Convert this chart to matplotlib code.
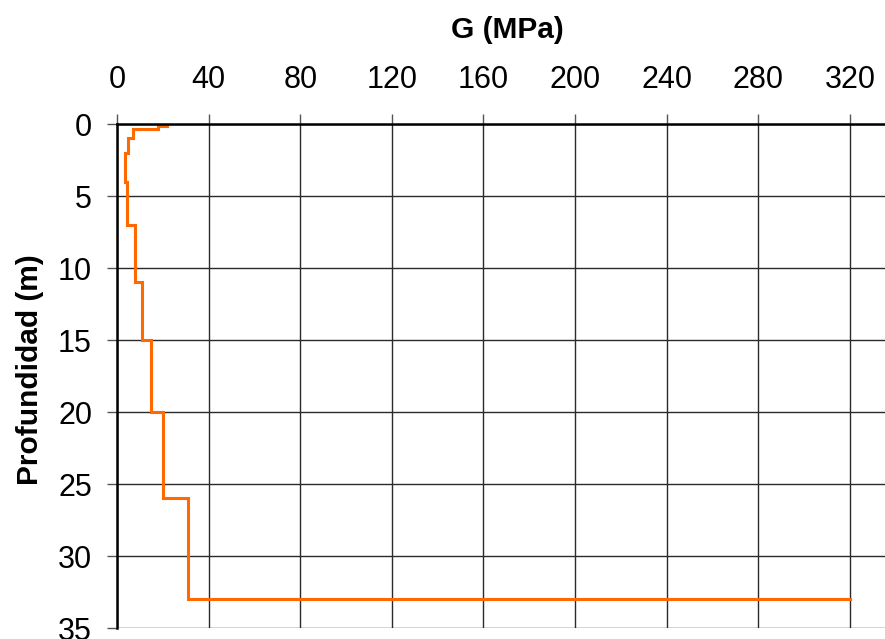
import matplotlib
matplotlib.use("Agg")
import matplotlib.pyplot as plt

plt.rcParams['font.family'] = ['Liberation Sans', 'DejaVu Sans']

# Shear modulus profile: layer top depths (m) and G per layer (MPa)
layer_top = [0, 0.15, 0.35, 1, 2, 4, 7, 11, 15, 20, 26, 33]
g_mpa = [22, 18, 7, 5, 3.6, 4.2, 8, 11, 15, 20, 31, 320]
profile_bottom = 33

x_ticks = [0, 40, 80, 120, 160, 200, 240, 280, 320]
y_ticks = [0, 5, 10, 15, 20, 25, 30, 35]

# Build stepped profile: vertical within each layer, horizontal at boundaries
xs, ys = [], []
for i, g in enumerate(g_mpa):
    top = layer_top[i]
    bottom = layer_top[i + 1] if i + 1 < len(layer_top) else profile_bottom
    xs += [g, g]
    ys += [top, bottom]

fig = plt.figure(figsize=(8.85, 6.39), dpi=100)
ax = fig.add_axes([117 / 885, 1 - 628 / 639, 1 - 117 / 885, (628 - 124) / 639])

ax.plot(xs, ys, color='#FF6A00', lw=2.2, solid_joinstyle='miter', zorder=3)

ax.set_xlim(0, 335.3)
ax.set_ylim(35, 0)
ax.set_xticks(x_ticks)
ax.set_yticks(y_ticks)
ax.xaxis.tick_top()
ax.grid(True, color='#2a2a2a', lw=1.0)
ax.set_axisbelow(True)

for side in ('right', 'bottom'):
    ax.spines[side].set_visible(False)
for side in ('left', 'top'):
    ax.spines[side].set_color('black')
    ax.spines[side].set_linewidth(1.8)
    ax.spines[side].set_zorder(4)

ax.tick_params(axis='x', which='major', direction='out', length=7, width=1.0,
               color='#555555', pad=14, labelsize=22)
ax.tick_params(axis='y', which='major', direction='out', length=7, width=1.0,
               color='#555555', pad=11, labelsize=22)

fig.text(507 / 885, 1 - 30 / 639, 'G (MPa)', ha='center', va='center',
         fontsize=21.5, fontweight='bold')
fig.text(30 / 885, 1 - 370 / 639, 'Profundidad (m)', ha='center', va='center',
         rotation=90, fontsize=21.5, fontweight='bold')

fig.savefig('out.png', dpi=100)
